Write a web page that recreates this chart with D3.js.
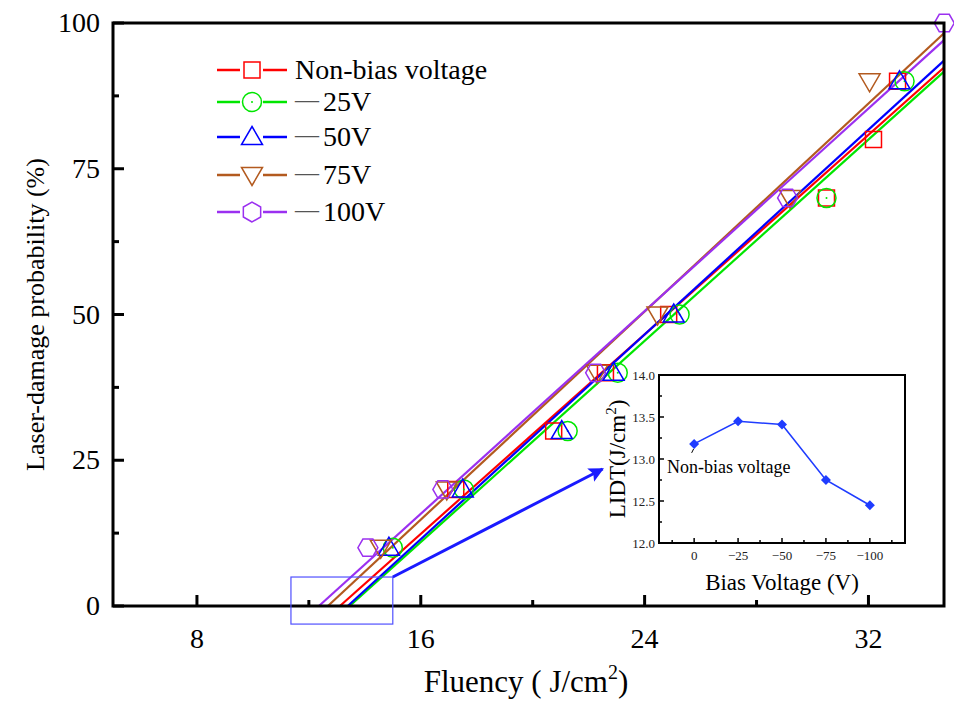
<!DOCTYPE html>
<html>
<head>
<meta charset="utf-8">
<script src="https://cdn.jsdelivr.net/npm/d3@7"></script>
<style>
  body { margin: 0; background: #fff; }
  svg { font-family: "Liberation Serif", "Times New Roman", serif; }
</style>
</head>
<body>
<svg id="svg" width="954" height="702"></svg>
<script>
(function() {

    const svg = d3.select('#svg')
    const width = 954, height = 702
    const marginLeft = 113, marginRight = 10, marginTop = 23, marginBottom = 96

    // series
    const seriesNames = ['Non-bias voltage', '25V', '50V', '75V', '100V']
    const colors = ['#ff0000', '#00e600', '#0000ff', '#b35a1f', '#9b30f0']
    const shapes = ['square', 'circle', 'triangle', 'down', 'hexagon']

    // measured points: fluency (J/cm2), damage probability (%)
    const fluency = [
        [17.25, 20.75, 22.6, 24.86, 30.5, 32.18, 33.04],
        [15.0, 17.54, 21.25, 23.04, 25.25, 30.5, 33.29],
        [14.86, 17.5, 21.04, 22.89, 25.04, 33.11],
        [14.57, 16.93, 22.3, 24.46, 29.2, 32.04],
        [14.11, 16.79, 22.25, 29.11, 34.71]
    ]
    const probability = [
        [20, 30, 40, 50, 70, 80, 90],
        [10, 20, 30, 40, 50, 70, 90],
        [10, 20, 30, 40, 50, 90],
        [10, 20, 40, 50, 70, 90],
        [10, 20, 40, 70, 100]
    ]

    // linear fits: x at 0% and slope (%/(J/cm2))
    const fitIntercept = [13.11, 13.46, 13.39, 12.68, 12.36]
    const fitSlope = [4.278, 4.315, 4.39, 4.462, 4.345]

    // inset: LIDT vs bias voltage
    const biasVoltage = [0, -25, -50, -75, -100]
    const lidt = [13.18, 13.45, 13.41, 12.75, 12.45]

    const xTicks = [8, 16, 24, 32]
    const xMinor = [12, 20, 28]
    const yTicks = [0, 25, 50, 75, 100]
    const yMinor = [12.5, 37.5, 62.5, 87.5]

    const x = d3.scaleLinear().domain([5, 34.7]).range([marginLeft, width - marginRight])
    const y = d3.scaleLinear().domain([0, 100]).range([height - marginBottom, marginTop])

    // marker paths centered at 0,0
    function shapePath(kind, s) {
        const p = d3.path()
        if (kind == 'square') {
            p.rect(-s * 0.8, -s * 0.8, s * 1.6, s * 1.6)
        } else if (kind == 'circle') {
            p.moveTo(s * 0.95, 0)
            p.arc(0, 0, s * 0.95, 0, Math.PI * 2)
        } else if (kind == 'triangle') {
            p.moveTo(0, -s * 1.05)
            p.lineTo(s * 1.05, s * 0.75)
            p.lineTo(-s * 1.05, s * 0.75)
            p.closePath()
        } else if (kind == 'down') {
            p.moveTo(0, s * 1.05)
            p.lineTo(s * 1.05, -s * 0.75)
            p.lineTo(-s * 1.05, -s * 0.75)
            p.closePath()
        } else {
            for (let i = 0; i < 6; i++) {
                const a = Math.PI / 3 * i
                const px = s * Math.cos(a), py = s * Math.sin(a)
                if (i == 0) p.moveTo(px, py); else p.lineTo(px, py)
            }
            p.closePath()
        }
        return p.toString()
    }

    function drawMarker(g, kind, cx, cy, color, s, rot) {
        g.append('path')
            .attr('d', shapePath(kind, s))
            .attr('transform', 'translate(' + cx + ',' + cy + ')' + (rot ? ' rotate(' + rot + ')' : ''))
            .attr('fill', 'none')
            .attr('stroke', color)
            .attr('stroke-width', 1.5)
        if (kind == 'circle') {
            g.append('circle').attr('cx', cx).attr('cy', cy).attr('r', 1).attr('fill', color)
        }
    }

    // fit lines
    const xEnd = x.domain()[1]
    fitIntercept.forEach((x0, i) => {
        svg.append('line')
            .attr('x1', x(x0))
            .attr('y1', y(0))
            .attr('x2', x(xEnd))
            .attr('y2', y(fitSlope[i] * (xEnd - x0)))
            .style('stroke', colors[i])
            .style('stroke-width', 2.2)
    })

    // points
    fluency.forEach((arr, i) => {
        arr.forEach((f, j) => {
            drawMarker(svg, shapes[i], x(f), y(probability[i][j]), colors[i], 10, 0)
        })
    })

    // axes ticks (inward)
    xTicks.forEach(t => {
        svg.append('line').attr('x1', x(t)).attr('x2', x(t))
            .attr('y1', y(0)).attr('y2', y(0) - 11)
            .style('stroke', '#000').style('stroke-width', 3)
        svg.append('text').attr('x', x(t)).attr('y', y(0) + 42)
            .attr('text-anchor', 'middle').style('font-size', '28px').text(t)
    })
    xMinor.forEach(t => {
        svg.append('line').attr('x1', x(t)).attr('x2', x(t))
            .attr('y1', y(0)).attr('y2', y(0) - 6)
            .style('stroke', '#000').style('stroke-width', 3)
    })
    yTicks.forEach(t => {
        svg.append('line').attr('x1', x.range()[0]).attr('x2', x.range()[0] + 11)
            .attr('y1', y(t)).attr('y2', y(t))
            .style('stroke', '#000').style('stroke-width', 3)
        svg.append('text').attr('x', x.range()[0] - 13).attr('y', y(t) + 9)
            .attr('text-anchor', 'end').style('font-size', '28px').text(t)
    })
    yMinor.forEach(t => {
        svg.append('line').attr('x1', x.range()[0]).attr('x2', x.range()[0] + 6)
            .attr('y1', y(t)).attr('y2', y(t))
            .style('stroke', '#000').style('stroke-width', 3)
    })

    // frame
    svg.append('rect')
        .attr('x', x.range()[0]).attr('y', y.range()[1])
        .attr('width', x.range()[1] - x.range()[0])
        .attr('height', y.range()[0] - y.range()[1])
        .attr('fill', 'none').style('stroke', '#000').style('stroke-width', 3)

    // axis titles
    const xt = svg.append('text')
        .attr('x', 526)
        .attr('y', 692).attr('text-anchor', 'middle').style('font-size', '31px')
    xt.append('tspan').text('Fluency ( J/cm')
    xt.append('tspan').attr('dy', -13).style('font-size', '20px').text('2')
    xt.append('tspan').attr('dy', 13).text(')')

    svg.append('text')
        .attr('transform', 'translate(44,' + ((y.range()[0] + y.range()[1]) / 2) + ') rotate(-90)')
        .attr('text-anchor', 'middle').style('font-size', '26px')
        .text('Laser-damage probability (%)')

    // legend
    const legendY = [70, 102, 137, 175, 212]
    seriesNames.forEach((name, i) => {
        const ly = legendY[i]
        svg.append('line').attr('x1', 217).attr('x2', 240).attr('y1', ly).attr('y2', ly)
            .style('stroke', colors[i]).style('stroke-width', 2.5)
        svg.append('line').attr('x1', 263).attr('x2', 287).attr('y1', ly).attr('y2', ly)
            .style('stroke', colors[i]).style('stroke-width', 2.5)
        drawMarker(svg, shapes[i], 252, ly, colors[i], 10, shapes[i] == 'hexagon' ? 90 : 0)
        const t = svg.append('text').attr('x', 295).attr('y', ly + 9).style('font-size', '28px')
        if (i == 0) {
            t.text(name)
        } else {
            t.append('tspan').attr('dy', -4).style('fill', '#555').style('font-size', '24px').text('\u2014')
            t.append('tspan').attr('dx', 4).attr('dy', 4).text(name)
        }
    })

    // zoom box and arrow
    svg.append('rect')
        .attr('x', x(11.36)).attr('y', y(4.97))
        .attr('width', x(15.0) - x(11.36)).attr('height', y(-3.1) - y(4.97))
        .attr('fill', 'none').style('stroke', '#5050ff').style('stroke-width', 1.2)

    svg.append('defs').append('marker')
        .attr('id', 'arrow').attr('viewBox', '0 0 10 10')
        .attr('refX', 9).attr('refY', 5)
        .attr('markerWidth', 6).attr('markerHeight', 5)
        .attr('markerUnits', 'strokeWidth')
        .attr('orient', 'auto')
        .append('path').attr('d', 'M0,0 L10,5 L0,10 L2,5 Z').attr('fill', '#1a1aff')

    svg.append('line')
        .attr('x1', x(15.0)).attr('y1', y(4.97))
        .attr('x2', x(22.5)).attr('y2', y(23.5))
        .style('stroke', '#1a1aff').style('stroke-width', 3)
        .attr('marker-end', 'url(#arrow)')

    // inset
    const ix = d3.scaleLinear().domain([20, -120]).range([659, 905])
    const iy = d3.scaleLinear().domain([12, 14]).range([543, 375])
    const inset = svg.append('g')

    inset.append('rect')
        .attr('x', ix.range()[0]).attr('y', iy.range()[1])
        .attr('width', ix.range()[1] - ix.range()[0])
        .attr('height', iy.range()[0] - iy.range()[1])
        .attr('fill', '#fff')

    d3.range(12, 14.01, 0.25).forEach((t, k) => {
        inset.append('line').attr('x1', ix.range()[0]).attr('x2', ix.range()[0] + (k % 2 == 0 ? 5 : 3))
            .attr('y1', iy(t)).attr('y2', iy(t)).style('stroke', '#000').style('stroke-width', 1.5)
        if (k % 2 == 0) {
            inset.append('text').attr('x', ix.range()[0] - 4).attr('y', iy(t) + 4.5)
                .attr('text-anchor', 'end').style('font-size', '13px').style('fill', '#222').text(t.toFixed(1))
        }
    })
    d3.range(12.5, -120, -12.5).forEach((t, k) => {
        const major = biasVoltage.includes(t)
        inset.append('line').attr('x1', ix(t)).attr('x2', ix(t))
            .attr('y1', iy.range()[0]).attr('y2', iy.range()[0] - (major ? 5 : 3))
            .style('stroke', '#000').style('stroke-width', 1.5)
        if (major) {
            inset.append('text').attr('x', ix(t)).attr('y', iy.range()[0] + 17)
                .attr('text-anchor', 'middle').style('font-size', '13px').style('fill', '#222')
                .text(t == 0 ? '0' : '\u2212' + Math.abs(t))
        }
    })

    inset.append('rect')
        .attr('x', ix.range()[0]).attr('y', iy.range()[1])
        .attr('width', ix.range()[1] - ix.range()[0])
        .attr('height', iy.range()[0] - iy.range()[1])
        .attr('fill', 'none').style('stroke', '#000').style('stroke-width', 2)

    const line = d3.line().x((d, i) => ix(biasVoltage[i])).y(d => iy(d))
    inset.append('path').datum(lidt).attr('d', line)
        .attr('fill', 'none').style('stroke', '#1f3cff').style('stroke-width', 1.6)
    lidt.forEach((v, i) => {
        inset.append('path')
            .attr('d', 'M0,-5 L5,0 L0,5 L-5,0 Z')
            .attr('transform', 'translate(' + ix(biasVoltage[i]) + ',' + iy(v) + ')')
            .attr('fill', '#1f3cff')
    })
    // leader for the non-bias label
    inset.append('line')
        .attr('x1', ix(0) - 0.5).attr('y1', iy(lidt[0]) + 5)
        .attr('x2', ix(0) - 2.5).attr('y2', iy(lidt[0]) + 9)
        .style('stroke', '#000').style('stroke-width', 1)

    inset.append('text').attr('x', 667).attr('y', 473).style('font-size', '18px').text('Non-bias voltage')

    const ixt = inset.append('text').attr('x', (ix.range()[0] + ix.range()[1]) / 2)
        .attr('y', 590).attr('text-anchor', 'middle').style('font-size', '23px')
    ixt.text('Bias Voltage (V)')

    const iyt = inset.append('text')
        .attr('transform', 'translate(625,' + ((iy.range()[0] + iy.range()[1]) / 2) + ') rotate(-90)')
        .attr('text-anchor', 'middle').style('font-size', '23px')
    iyt.append('tspan').text('LIDT(J/cm')
    iyt.append('tspan').attr('dy', -9).style('font-size', '15px').text('2')
    iyt.append('tspan').attr('dy', 9).text(')')

})();
</script>
</body>
</html>
